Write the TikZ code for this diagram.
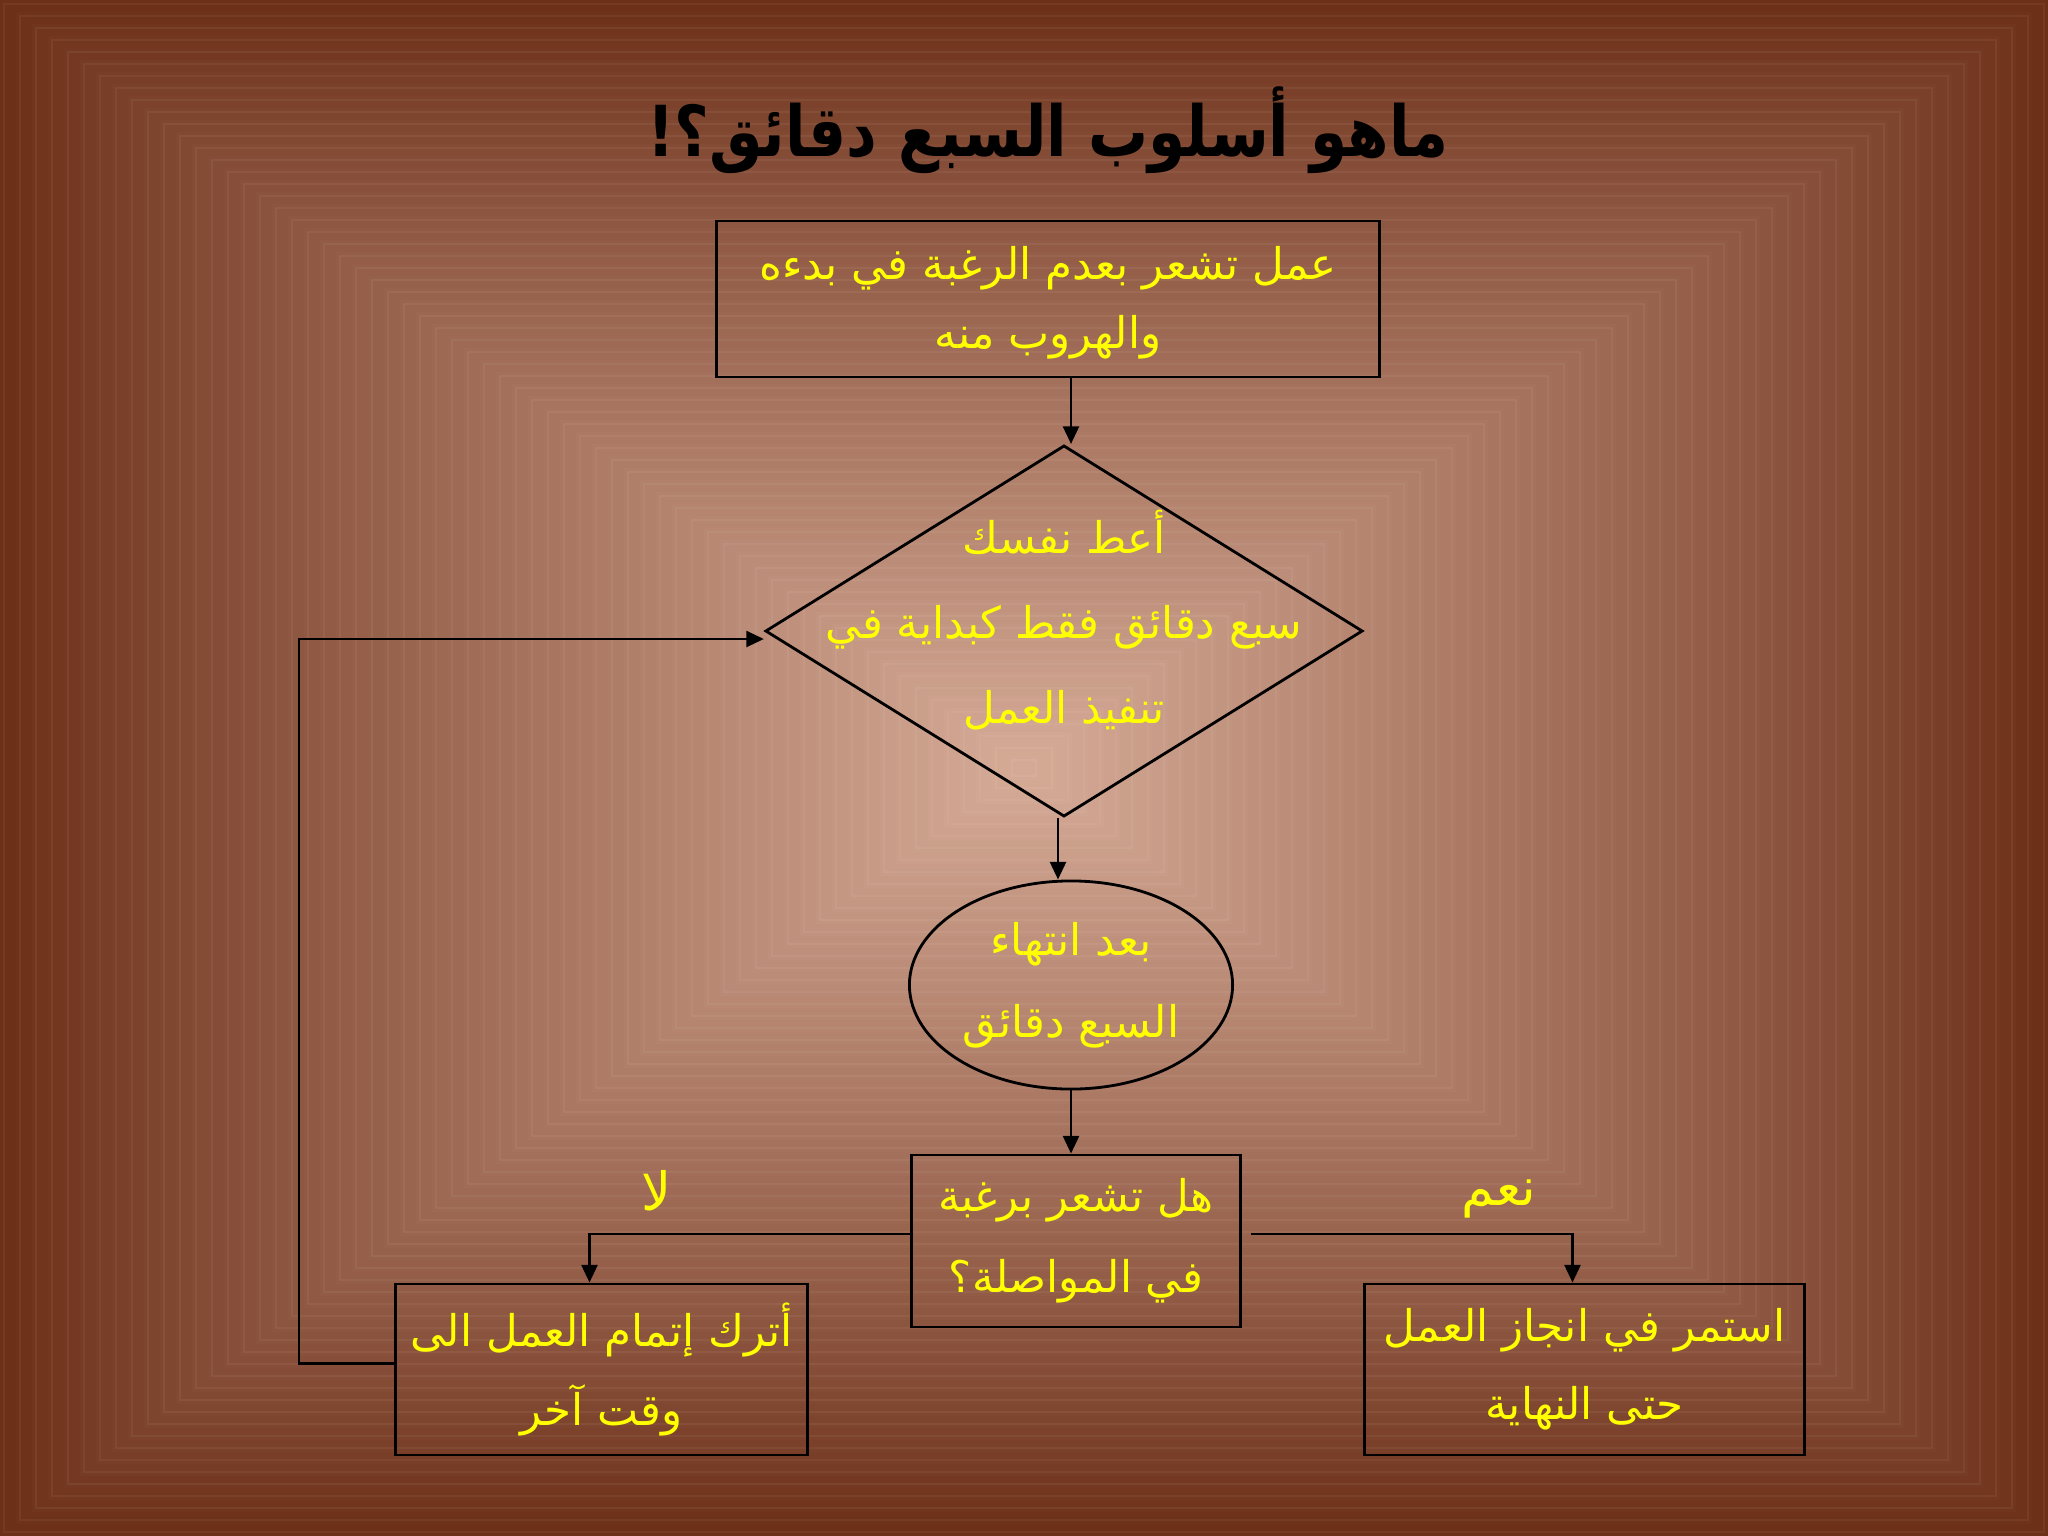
\documentclass[tikz,border=0pt]{standalone}
\usepackage{fontspec}
\usetikzlibrary{shapes.geometric,arrows.meta,calc}
\newfontfamily\arabicfont[Script=Arabic]{DejaVu Sans}
\newfontfamily\titlefont[Script=Arabic,FakeStretch=0.85]{DejaVu Sans}
\TeXXeTstate=1
\definecolor{bgdark}{RGB}{108,47,24}
\definecolor{bglight}{RGB}{214,172,152}
\definecolor{txtyellow}{RGB}{255,255,0}
\begin{document}
\begin{tikzpicture}[x=0.01cm,y=-0.01cm,
  box/.style={draw=black,line width=0.8pt,rectangle,inner sep=0pt},
  txt/.style={text=txtyellow,align=center,font=\arabicfont\fontsize{12.4}{22.8}\selectfont},
  arr/.style={draw=black,line width=0.8pt,-{Triangle[length=5pt,width=4.5pt]}}]
\useasboundingbox (0,0) rectangle (2048,1536);
% background box gradient
\foreach \i in {0,...,63}{
  \pgfmathsetmacro\t{\i/64}
  \pgfmathsetmacro\p{100*\t^0.9}
  \pgfmathsetmacro\hw{1024*(1-\t)}
  \pgfmathsetmacro\hh{768*(1-\t)}
  \fill[bglight!\p!bgdark] (1024-\hw,768-\hh) rectangle (1024+\hw,768+\hh);
  \draw[white,opacity=0.05,line width=0.3pt] (1024-\hw+4,768-\hh+4) rectangle (1024+\hw-4,768+\hh-4);
}
% title
\node[font=\titlefont\bfseries\fontsize{20}{26}\selectfont,text=black] (title) at (1048,130) {\beginR ماهو أسلوب السبع دقائق؟!\endR};
% nodes
\node[box,minimum width=6.62cm,minimum height=1.56cm] (top) at (1048,299) {};
\node[txt,font=\arabicfont\fontsize{12.4}{19.6}\selectfont] (toptxt) at (1048,303) {\beginR عمل تشعر بعدم الرغبة في بدءه\endR\\\beginR والهروب  منه\endR};
\node[draw=black,line width=0.8pt,diamond,inner sep=0pt,minimum width=5.97cm,minimum height=3.71cm] (d) at (1064,631) {};
\node[txt,font=\arabicfont\fontsize{12.4}{24.2}\selectfont] (dtxt) at (1064,620) {\beginR أعط نفسك\endR\\\beginR سبع دقائق فقط كبداية في\endR\\\beginR تنفيذ العمل\endR};
\node[draw=black,line width=0.8pt,ellipse,inner sep=0pt,minimum width=3.23cm,minimum height=2.08cm] (e) at (1071,985) {};
\node[txt,font=\arabicfont\fontsize{12.4}{23.3}\selectfont] (etxt) at (e.center) {\beginR بعد انتهاء\endR\\\beginR السبع دقائق\endR};
\node[box,minimum width=3.29cm,minimum height=1.72cm] (m) at (1076,1241) {};
\node[txt,font=\arabicfont\fontsize{12.4}{23}\selectfont] (mtxt) at (m.center) {\beginR هل تشعر برغبة\endR\\\beginR في المواصلة؟\endR};
\node[box,minimum width=4.11cm,minimum height=1.71cm] (L) at (601.5,1369.5) {};
\node[txt,font=\arabicfont\fontsize{12.4}{22.2}\selectfont] (Ltxt) at (L.center) {\beginR أترك إتمام العمل الى\endR\\\beginR وقت آخر\endR};
\node[box,minimum width=4.39cm,minimum height=1.71cm] (R) at (1584.5,1369.5) {};
\node[txt,font=\arabicfont\fontsize{12.4}{22.2}\selectfont] (Rtxt) at (R.center) {\beginR استمر في انجاز العمل\endR\\\beginR حتى النهاية\endR};
% labels
\node[txt,font=\arabicfont\fontsize{15}{20}\selectfont] (no) at (657,1191) {\beginR لا\endR};
\node[txt,font=\arabicfont\fontsize{15}{20}\selectfont] (yes) at (1499,1199) {\beginR نعم\endR};
% connectors
\coordinate (ts) at ($(top.south)+(23,0)$);
\draw[arr] (ts) -- (ts |- d.north);
\coordinate (ds) at ($(d.south)+(-6,0)$);
\draw[arr] (ds) -- (ds |- e.north);
\draw[arr] (e.south) -- (e.south |- m.north);
\coordinate (mw) at ($(m.west)+(0,-7)$);
\coordinate (Ln) at ($(L.north)+(-12,0)$);
\draw[arr] (mw) -| (Ln);
\coordinate (me) at ($(m.east)+(9,-7)$);
\coordinate (Rn) at ($(R.north)+(-12,0)$);
\draw[arr] (me) -| (Rn);
\coordinate (lw) at ($(L.west)+(0,-6)$);
\coordinate (k) at (299,639);
\draw[arr] (lw) -| (k) -- (k -| d.west);
\end{tikzpicture}
\end{document}
